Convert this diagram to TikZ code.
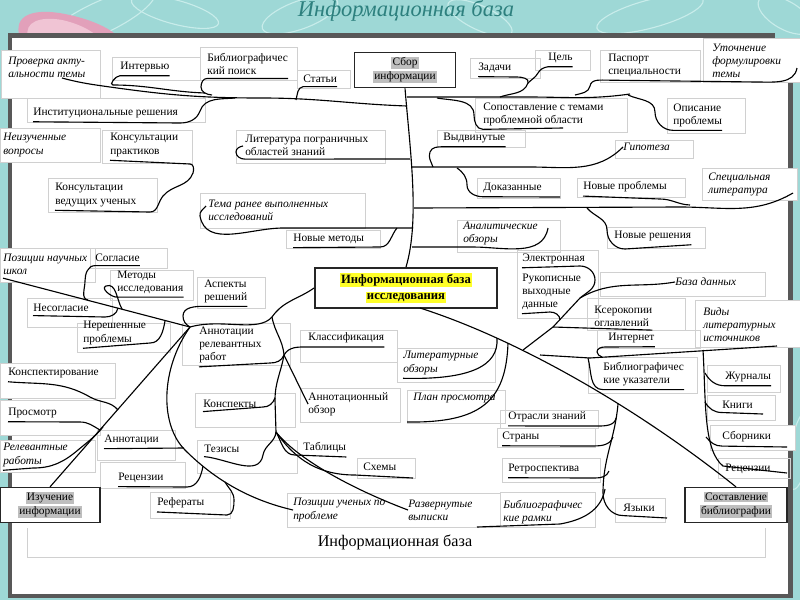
\documentclass[tikz,border=0pt]{standalone}
\usepackage{fontspec}
\setmainfont{Liberation Serif}
\usepackage{tikz}
\definecolor{slidebg}{RGB}{158,216,214}
\definecolor{framegray}{RGB}{88,88,88}
\definecolor{titlecol}{RGB}{45,128,126}
\definecolor{hlyellow}{RGB}{255,255,40}
\definecolor{hlgray}{RGB}{190,190,190}
\definecolor{pinkA}{RGB}{226,160,186}
\definecolor{pinkB}{RGB}{240,196,212}
\definecolor{boxgray}{RGB}{208,208,208}
\definecolor{decocol}{RGB}{200,236,234}
\newcommand{\hlg}[1]{{\setlength{\fboxsep}{0.8pt}\colorbox{hlgray}{#1}}}
\newcommand{\hly}[1]{{\setlength{\fboxsep}{0.8pt}\colorbox{hlyellow}{#1}}}

\begin{document}
\begin{tikzpicture}[x=0.025cm, y=-0.025cm, % 1単位 = 1px (下向き)
  lbl/.style={font=\fontsize{8.1}{9.3}\selectfont, align=left, anchor=west, inner xsep=0pt, inner ysep=2.5pt},
  ilbl/.style={lbl, font=\fontsize{8.1}{9.3}\selectfont\itshape},
  tbox/.style={draw=boxgray, line width=0.4pt},
  wbox/.style={tbox, fill=white},
  link/.style={line width=0.8pt, black},
  keybox/.style={draw=black!85, line width=1pt, fill=white, align=center, inner sep=0pt, font=\fontsize{8.1}{10}\selectfont},
  deco/.style={draw=decocol, line width=0.8pt}]
  \useasboundingbox (0,0) rectangle (800,600);
  \clip (0,0) rectangle (800,600);

  % 背景
  \fill[slidebg] (0,0) rectangle (800,600);
  \draw[deco, rotate around={25:(100,18)}] (100,18) ellipse [x radius=60, y radius=16];
  \draw[deco, rotate around={-15:(175,12)}] (175,12) ellipse [x radius=45, y radius=12];
  \draw[deco, rotate around={20:(300,15)}] (300,15) ellipse [x radius=40, y radius=14];
  \draw[deco, rotate around={-25:(480,18)}] (480,18) ellipse [x radius=35, y radius=12];
  \draw[deco, rotate around={15:(650,14)}] (650,14) ellipse [x radius=55, y radius=14];
  \draw[deco, rotate around={-30:(785,15)}] (785,15) ellipse [x radius=30, y radius=14];
  \draw[deco, rotate around={80:(800,450)}] (800,450) ellipse [x radius=40, y radius=10];
  \fill[pinkA] (20,38) .. controls (12,14) and (35,8) .. (65,14) .. controls (95,20) and (112,30) .. (120,38) -- cycle; % ピンクの飾り
  \fill[pinkB] (28,37) .. controls (24,22) and (40,16) .. (62,20) .. controls (80,24) and (92,31) .. (98,37) -- cycle;
  \node[font=\fontsize{16}{19}\selectfont\itshape, text=titlecol, anchor=base] (ttl) at (406,16) {Информационная база};

  % 枠
  \fill[white] (12,38) rectangle (788,594);
  \fill[framegray] (8,33) rectangle (775,38);
  \fill[framegray] (8,33) rectangle (12,598);
  \fill[framegray] (8,594) rectangle (793,598);
  \fill[framegray] (788,80) rectangle (793,598);

  % テキストボックスの薄い枠
  \draw[wbox] (1,50) rectangle (100,98);
  \draw[tbox] (112,57) rectangle (200,80);
  \draw[tbox] (200,47) rectangle (297,80);
  \draw[tbox] (297,70) rectangle (350,88);
  \draw[tbox] (470,58) rectangle (540,78);
  \draw[tbox] (535,50) rectangle (590,70);
  \draw[tbox] (600,50) rectangle (700,82);
  \draw[wbox] (703,38) rectangle (800,82);
  \draw[tbox] (27,98) rectangle (205,122);
  \draw[tbox] (475,98) rectangle (627,132);
  \draw[tbox] (667,98) rectangle (745,133);
  \draw[wbox] (0,128) rectangle (100,162);
  \draw[tbox] (102,130) rectangle (192,163);
  \draw[tbox] (236,130) rectangle (385,163);
  \draw[tbox] (437,130) rectangle (525,147);
  \draw[tbox] (615,140) rectangle (693,158);
  \draw[tbox] (48,178) rectangle (157,212);
  \draw[tbox] (200,193) rectangle (365,228);
  \draw[tbox] (477,178) rectangle (560,198);
  \draw[tbox] (577,178) rectangle (685,197);
  \draw[wbox] (702,168) rectangle (797,200);
  \draw[tbox] (286,230) rectangle (380,248);
  \draw[tbox] (457,220) rectangle (560,252);
  \draw[tbox] (607,227) rectangle (705,248);
  \draw[wbox] (0,248) rectangle (95,282);
  \draw[tbox] (90,248) rectangle (167,268);
  \draw[tbox] (110,270) rectangle (193,300);
  \draw[tbox] (197,277) rectangle (265,308);
  \draw[tbox] (517,250) rectangle (598,318);
  \draw[tbox] (600,272) rectangle (765,296);
  \draw[tbox] (27,298) rectangle (112,327);
  \draw[tbox] (587,298) rectangle (685,330);
  \draw[wbox] (695,300) rectangle (800,347);
  \draw[tbox] (77,323) rectangle (170,352);
  \draw[tbox] (182,323) rectangle (290,365);
  \draw[tbox] (300,330) rectangle (397,362);
  \draw[tbox] (597,330) rectangle (700,348);
  \draw[tbox] (397,348) rectangle (495,382);
  \draw[wbox] (0,363) rectangle (115,398);
  \draw[tbox] (588,357) rectangle (697,393);
  \draw[tbox] (707,365) rectangle (780,392);
  \draw[tbox] (300,388) rectangle (400,422);
  \draw[tbox] (407,390) rectangle (505,423);
  \draw[tbox] (195,393) rectangle (295,427);
  \draw[tbox] (707,395) rectangle (775,420);
  \draw[wbox] (0,400) rectangle (100,435);
  \draw[tbox] (500,410) rectangle (598,428);
  \draw[tbox] (497,428) rectangle (595,447);
  \draw[wbox] (710,425) rectangle (795,450);
  \draw[tbox] (97,430) rectangle (175,460);
  \draw[wbox] (0,440) rectangle (95,472);
  \draw[tbox] (197,440) rectangle (297,473);
  \draw[tbox] (357,458) rectangle (415,478);
  \draw[tbox] (502,458) rectangle (600,482);
  \draw[tbox] (718,458) rectangle (790,478);
  \draw[tbox] (100,462) rectangle (185,488);
  \draw[tbox] (150,492) rectangle (230,518);
  \draw[tbox] (287,493) rectangle (500,527);
  \draw[tbox] (500,492) rectangle (595,527);
  \draw[tbox] (615,498) rectangle (665,522);
  \draw[tbox] (27,528) -- (27,557) -- (765,557) -- (765,528);

  % ラベル
  \node[ilbl] (chk) at (8,67) {Проверка акту-\\альности темы};
  \node[lbl] (intv) at (120,67) {Интервью};
  \node[lbl] (bib) at (207,64) {Библиографичес\\кий поиск};
  \node[lbl] (stat) at (303,79) {Статьи};
  \node[lbl] (zad) at (478,68) {Задачи};
  \node[lbl] (cel) at (548,58) {Цель};
  \node[lbl] (pasp) at (608,65) {Паспорт\\специальности};
  \node[ilbl] (utoch) at (712,61) {Уточнение\\формулировки\\темы};
  \node[lbl] (inst) at (33,113) {Институциональные решения};
  \node[lbl] (sop) at (483,114) {Сопоставление с темами\\проблемной области};
  \node[lbl] (opis) at (673,115) {Описание\\проблемы};
  \node[ilbl] (neiz) at (3,145) {Неизученные\\вопросы};
  \node[lbl] (konp) at (110,145) {Консультации\\практиков};
  \node[lbl] (lit) at (245,145) {Литература пограничных\\областей знаний};
  \node[lbl] (vyd) at (443,138) {Выдвинутые};
  \node[ilbl] (gip) at (623,147) {Гипотеза};
  \node[lbl] (konv) at (55,195) {Консультации\\ведущих ученых};
  \node[ilbl] (tema) at (208,210) {Тема ранее выполненных\\исследований};
  \node[lbl] (dok) at (483,188) {Доказанные};
  \node[lbl] (novp) at (583,187) {Новые проблемы};
  \node[ilbl] (spec) at (708,184) {Специальная\\литература};
  \node[lbl] (novm) at (293,239) {Новые методы};
  \node[ilbl] (anal) at (463,233) {Аналитические\\обзоры};
  \node[lbl] (novr) at (614,236) {Новые решения};
  \node[ilbl] (pozn) at (3,264) {Позиции научных\\школ};
  \node[lbl] (sogl) at (95,258) {Согласие};
  \node[lbl] (met) at (117,282) {Методы\\исследования};
  \node[lbl] (asp) at (204,291) {Аспекты\\решений};
  \node[lbl] (elek) at (522,259) {Электронная};
  \node[lbl] (ruk) at (522,292) {Рукописные\\выходные\\данные};
  \node[ilbl] (bd) at (675,282) {База данных};
  \node[lbl] (nesog) at (33,308) {Несогласие};
  \node[lbl] (kser) at (594,316) {Ксерокопии\\оглавлений};
  \node[ilbl] (vidy) at (703,325) {Виды\\литературных\\источников};
  \node[lbl] (nereshen) at (83,333) {Нерешенные\\проблемы};
  \node[lbl] (annr) at (199,345) {Аннотации\\релевантных\\работ};
  \node[lbl] (klass) at (308,338) {Классификация};
  \node[lbl] (inet) at (608,338) {Интернет};
  \node[ilbl] (litob) at (403,363) {Литературные\\обзоры};
  \node[lbl] (konspt) at (8,373) {Конспектирование};
  \node[lbl] (bibuk) at (603,374) {Библиографичес\\кие указатели};
  \node[lbl] (jur) at (725,377) {Журналы};
  \node[lbl] (anno) at (308,404) {Аннотационный\\обзор};
  \node[ilbl] (plan) at (413,398) {План просмотра};
  \node[lbl] (konsp) at (203,404) {Конспекты};
  \node[lbl] (knig) at (722,405) {Книги};
  \node[lbl] (prosm) at (8,413) {Просмотр};
  \node[lbl] (otr) at (508,417) {Отрасли знаний};
  \node[lbl] (stran) at (502,437) {Страны};
  \node[lbl] (sborn) at (722,437) {Сборники};
  \node[lbl] (annot) at (104,440) {Аннотации};
  \node[ilbl] (relr) at (3,455) {Релевантные\\работы};
  \node[lbl] (tez) at (204,449) {Тезисы};
  \node[lbl] (tabl) at (303,448) {Таблицы};
  \node[lbl] (shem) at (363,467) {Схемы};
  \node[lbl] (retr) at (508,469) {Ретроспектива};
  \node[lbl] (recB) at (725,469) {Рецензии};
  \node[lbl] (recA) at (118,478) {Рецензии};
  \node[lbl] (ref) at (157,503) {Рефераты};
  \node[ilbl] (pozu) at (293,510) {Позиции ученых по\\проблеме};
  \node[ilbl] (razv) at (408,510) {Развернутые\\выписки};
  \node[ilbl] (bibr) at (503,512) {Библиографичес\\кие рамки};
  \node[lbl] (yaz) at (623,508) {Языки};
  \node[font=\fontsize{11.5}{13}\selectfont] (ibase) at (395,542) {Информационная база};

  % 主なボックス
  \node[keybox, minimum width=2.52cm, minimum height=0.88cm] (sbor) at (405,70) {\hlg{Сбор}\\\hlg{информации}};
  \node[keybox, line width=1.3pt, minimum width=4.55cm, minimum height=1cm, font=\fontsize{9}{11.5}\selectfont\bfseries] (main) at (406,288) {\hly{Информационная база}\\\hly{исследования}};
  \node[keybox, minimum width=2.5cm, minimum height=0.87cm] (izuch) at (50,505) {\hlg{Изучение}\\\hlg{информации}};
  \node[keybox, minimum width=2.55cm, minimum height=0.87cm] (sost) at (736,505) {\hlg{Составление}\\\hlg{библиографии}};

  % 分岐点
  \coordinate (jTL) at (407,106);
  \coordinate (jTR) at (407,97);
  \coordinate (jLit) at (410,159);
  \coordinate (jVyd) at (412,167);
  \coordinate (jDok) at (414,208);
  \coordinate (jTema) at (413,228);
  \coordinate (jAnal) at (412,247);
  \coordinate (dA) at (420,308);
  \coordinate (hA) at (190,327);
  \coordinate (hB) at (272,317);
  \coordinate (hC) at (284,355);
  \coordinate (hD) at (276,432);

  % 幹
  \draw[link] (sbor.south) .. controls (410,150) and (420,220) .. (main.north);

  % 左上
  \draw[link] (jTL) to[out=178,in=0] (262,98) to[out=180,in=-8] (110,87) to[out=172,in=-15] (62,78);
  \draw[link] (intv.south east) -- (intv.south west) to[out=180,in=180] (113,85) to[out=0,in=178] (205,93);
  \draw[link] (bib.south east) -- (bib.south west) to[out=180,in=90] (201,87) to[out=-90,in=175] (212,95);
  \draw[link] (296,100) to[out=75,in=190] (stat.south west) -- (stat.south east);
  \draw[link] (inst.south west) -- (180,123) to[out=0,in=-110] (200,111) to[out=70,in=185] (235,98);
  \draw[link] (konp.south west) -- (190,164) to[out=0,in=70] (193,173) to[out=-110,in=50] (163,196) to[out=-130,in=0] (150,212) -- (konv.south west);
  \draw[link] (jLit) -- (lit.south west) to[out=180,in=-90] (236,152) to[out=90,in=190] (243,146);
  \draw[link] (jTema) -- (283,228) to[out=180,in=-80] (200,216) to[out=100,in=-130] (206,206);
  \draw[link] (novm.south west) -- (380,247) to[out=0,in=-130] (397,228);

  % 右上
  \draw[link] (jTR) -- (527,97) to[out=0,in=188] (630,94);
  \draw[link] (zad.south west) -- (517,77) to[out=0,in=70] (528,83) to[out=-110,in=20] (500,97);
  \draw[link] (cel.south east) -- (cel.south west) to[out=190,in=60] (538,73) to[out=-120,in=45] (528,83);
  \draw[link] (575,95) to[out=15,in=-100] (590,86) to[out=80,in=180] (pasp.south west) -- (757,82) to[out=0,in=-100] (797,68);
  \draw[link] (437,98) to[out=-10,in=90] (474,115) to[out=-90,in=180] (sop.south west) -- (563,128);
  \draw[link] (628,95) to[out=-25,in=90] (655,112) to[out=-90,in=180] (opis.south west) -- (opis.south east);
  \draw[link] (jVyd) -- (530,167) to[out=0,in=-135] (gip.west);
  \draw[link] (433,167) to[out=110,in=-110] (430,152) to[out=70,in=180] (vyd.south west) -- (vyd.south east);
  \draw[link] (457,168) to[out=-35,in=90] (467,185) to[out=-90,in=180] (dok.south west) -- (560,197);
  \draw[link] (jDok) -- (680,207) to[out=0,in=-150] (793,193);
  \draw[link] (novp.south west) -- (660,199) to[out=0,in=178] (690,205);
  \draw[link] (587,208) to[out=-50,in=90] (607,230) to[out=-90,in=180] (625,249) -- (novr.south east);
  \draw[link] (jAnal) -- (473,247) to[out=0,in=-100] (548,228);

  % 右下
  \draw[link] (dA) .. controls (520,340) and (640,410) .. (sost.north);
  \draw[link] (497,338) .. controls (499,366) and (470,380) .. (litob.south west);
  \draw[link] (508,343) .. controls (506,402) and (480,423) .. (407,422);
  \draw[link] (523,350) -- (553,327) -- (580,298) to[out=30,in=190] (bd.west);
  \draw[link] (elek.south west) -- (580,266) to[out=0,in=90] (595,280) to[out=-90,in=40] (580,298);
  \draw[link] (ruk.south west) -- (550,312) to[out=0,in=90] (560,320);
  \draw[link] (553,327) -- (kser.south east);
  \draw[link] (540,355) -- (590,358) -- (777,346);
  \draw[link] (inet.south east) -- (605,347) to[out=180,in=90] (597,352) to[out=-90,in=150] (602,357);
  \draw[link] (588,358) to[out=-75,in=180] (bibuk.south west) -- (bibuk.south east);
  \draw[link] (703,350) .. controls (706,400) and (703,450) .. (723,466) -- (787,473);
  \draw[link] (705,373) to[out=-60,in=180] (jur.south west) -- (jur.south east);
  \draw[link] (705,402) to[out=-60,in=180] (knig.south west) -- (763,414);
  \draw[link] (706,437) to[out=-50,in=180] (sborn.south west) -- (787,447);
  \draw[link] (618,404) to[out=-95,in=90] (603,493) to[out=-90,in=180] (yaz.south west) -- (667,518);
  \draw[link] (616,418) to[out=-100,in=0] (598,426) -- (otr.south west);
  \draw[link] (613,437) to[out=-110,in=0] (590,446) -- (stran.south west);
  \draw[link] (609,471) to[out=-110,in=0] (595,478) -- (retr.south west);
  \draw[link] (605,489) to[out=-100,in=10] (560,524) -- (477,527);

  % 左下
  \draw[link] (main.west) to[out=215,in=55] (hB);
  \draw[link] (hB) .. controls (258,333) and (222,318) .. (hA);
  \draw[link] (hA) -- (pozn.south west);
  \draw[link] (sogl.south east) -- (sogl.south west) to[out=180,in=90] (85,281) to[out=-90,in=170] (88,300);
  \draw[link] (met.south east) -- (met.south west) to[out=180,in=200] (106,286) to[out=20,in=120] (122,309);
  \draw[link] (nesog.south west) -- (105,317) to[out=0,in=-100] (118,308);
  \draw[link] (nereshen.south west) -- (150,343) to[out=0,in=-100] (165,321);
  \draw[link] (asp.south east) -- (asp.south west) to[out=180,in=90] (183,316) to[out=-90,in=150] (hA);
  \draw[link] (hA) -- (izuch.north);
  \draw[link] (konspt.south west) to[out=-5,in=150] (90,397) to[out=-30,in=130] (118,410);
  \draw[link] (prosm.south west) -- (80,422) to[out=0,in=150] (100,430);
  \draw[link] (relr.south west) -- (33,468) to[out=0,in=-140] (78,450) to[out=40,in=-130] (103,427);
  \draw[link] (hA) .. controls (160,370) and (160,425) .. (185,450) .. controls (215,480) and (250,500) .. (pozu.west);
  \draw[link] (annot.south west) -- (184,448);
  \draw[link] (recA.south west) -- (187,487) to[out=0,in=-100] (203,466);
  \draw[link] (ref.south west) -- (227,515) to[out=0,in=-90] (234,500) to[out=90,in=-60] (225,482);
  \draw[link] (hB) to[out=-80,in=95] (hC);
  \draw[link] (hC) to[out=60,in=180] (klass.south west) -- (klass.south east);
  \draw[link] (annr.south west) -- (270,363) to[out=0,in=-110] (hC);
  \draw[link] (hC) -- (anno.west);
  \draw[link] (hC) to[out=-100,in=90] (275,400) -- (hD);
  \draw[link] (konsp.south west) -- (263,407) to[out=0,in=-110] (275,398);
  \draw[link] (tez.south west) to[out=-5,in=-100] (263,455) to[out=80,in=-95] (hD);
  \draw[link] (hD) to[out=-60,in=180] (295,455) -- (tabl.south east);
  \draw[link] (hD) to[out=-55,in=180] (355,475) -- (413,478);
  \draw[link] (hD) .. controls (300,462) and (360,492) .. (razv.west);
\end{tikzpicture}
\end{document}
